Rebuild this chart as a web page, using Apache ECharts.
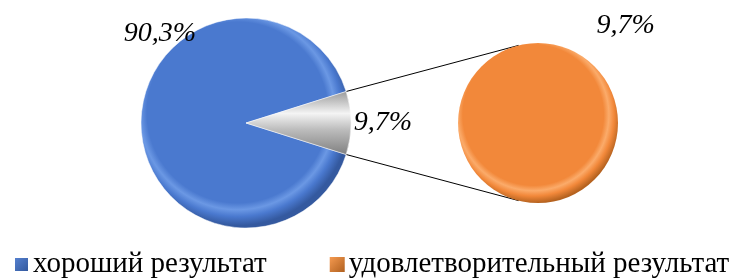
<!DOCTYPE html>
<html>
<head>
<meta charset="utf-8">
<script src="https://cdn.jsdelivr.net/npm/echarts@6/dist/echarts.min.js"></script>
<style>
  html, body { margin: 0; padding: 0; background: #fff; }
  #chart { width: 742px; height: 278px; }
</style>
</head>
<body>
<div id="chart"></div>
<script>
// данные
var mainNames = ['хороший результат', 'прочее'];
var mainValues = [90.3, 9.7];
var subNames = ['удовлетворительный результат'];
var subValues = [9.7];
var labelTexts = ['90,3%', '9,7%'];
var subLabelTexts = ['9,7%'];

// геометрия
var leftC = [246, 123], leftR = 105;
var rightC = [538, 123], rightR = 80;
var fontFam = 'Liberation Serif';

var total = mainValues[0] + mainValues[1];
var halfGrey = mainValues[1] / total * 180; // половина угла серого сектора

function bevel(base, light, dark) {
  return new echarts.graphic.RadialGradient(0.47, 0.45, 0.55, [
    { offset: 0, color: base },
    { offset: 0.8, color: base },
    { offset: 0.86, color: light },
    { offset: 0.92, color: base },
    { offset: 1, color: dark }
  ]);
}

function rad(d) { return d * Math.PI / 180; }
// точки соединительных линий
var p1 = [leftC[0] + leftR * Math.cos(rad(halfGrey)), leftC[1] - leftR * Math.sin(rad(halfGrey))];
var p2 = [leftC[0] + leftR * Math.cos(rad(halfGrey)), leftC[1] + leftR * Math.sin(rad(halfGrey))];
var q1 = [rightC[0] + rightR * Math.cos(rad(104)), rightC[1] - rightR * Math.sin(rad(104))];
var q2 = [rightC[0] + rightR * Math.cos(rad(256)), rightC[1] - rightR * Math.sin(rad(256))];

// места подписей (угол, расстояние от центра)
var mainSpots = [[134, 124], [0, 137]];
var subSpots = [[48, 131]];

var chart = echarts.init(document.getElementById('chart'), null, { renderer: 'canvas' });

var option = {
  animation: false,
  legend: {
    data: [
      { name: mainNames[0], itemStyle: { color: new echarts.graphic.LinearGradient(0, 0, 1, 1, [{ offset: 0, color: '#5a86d6' }, { offset: 1, color: '#2e5397' }]) } },
      { name: subNames[0], itemStyle: { color: new echarts.graphic.LinearGradient(0, 0, 1, 1, [{ offset: 0, color: '#f59a50' }, { offset: 1, color: '#b0601f' }]) } }
    ],
    top: 250,
    left: 13,
    width: 729,
    padding: 0,
    icon: 'rect',
    itemWidth: 15,
    itemHeight: 15,
    itemGap: 63,
    textStyle: { fontFamily: fontFam, fontSize: 29, color: '#000', padding: [0, 0, 0, -1] }
  },
  graphic: [
    { type: 'line', shape: { x1: p1[0], y1: p1[1], x2: q1[0], y2: q1[1] }, style: { stroke: '#000', lineWidth: 1 } },
    { type: 'line', shape: { x1: p2[0], y1: p2[1], x2: q2[0], y2: q2[1] }, style: { stroke: '#000', lineWidth: 1 } }
  ],
  series: [
    {
      type: 'pie',
      center: leftC,
      radius: [0, leftR],
      startAngle: -halfGrey,
      clockwise: true,
      silent: true,
      data: mainValues.map(function (v, i) {
        return {
          name: mainNames[i],
          value: v,
          itemStyle: i === 0
            ? { color: bevel('#4a79cf', '#6b98e4', '#34599f') }
            : { color: new echarts.graphic.LinearGradient(0, 0, 0, 1, [
                { offset: 0, color: '#9a9a9a' },
                { offset: 0.35, color: '#f4f4f4' },
                { offset: 0.6, color: '#bdbdbd' },
                { offset: 1, color: '#808080' }
              ]) }
        };
      }),
      itemStyle: { borderColor: '#fff', borderWidth: 0.5 },
      label: {
        show: true,
        position: 'outside',
        formatter: function (p) { return labelTexts[p.dataIndex]; },
        fontFamily: fontFam,
        fontStyle: 'italic',
        fontSize: 28,
        color: '#000'
      },
      labelLine: { show: false },
      labelLayout: function (p) {
        var s = mainSpots[p.dataIndex];
        return {
          x: leftC[0] + s[1] * Math.cos(rad(s[0])),
          y: leftC[1] - s[1] * Math.sin(rad(s[0])),
          align: 'center',
          verticalAlign: 'middle'
        };
      }
    },
    {
      type: 'pie',
      center: rightC,
      radius: [0, rightR],
      silent: true,
      data: subValues.map(function (v, i) {
        return { name: subNames[i], value: v, itemStyle: { color: bevel('#f2883a', '#fbab6a', '#b5621f') } };
      }),
      label: {
        show: true,
        position: 'outside',
        formatter: function (p) { return subLabelTexts[p.dataIndex]; },
        fontFamily: fontFam,
        fontStyle: 'italic',
        fontSize: 28,
        color: '#000'
      },
      labelLine: { show: false },
      labelLayout: function (p) {
        var s = subSpots[p.dataIndex];
        return {
          x: rightC[0] + s[1] * Math.cos(rad(s[0])),
          y: rightC[1] - s[1] * Math.sin(rad(s[0])),
          align: 'center',
          verticalAlign: 'middle'
        };
      }
    }
  ]
};

chart.setOption(option);
</script>
</body>
</html>
